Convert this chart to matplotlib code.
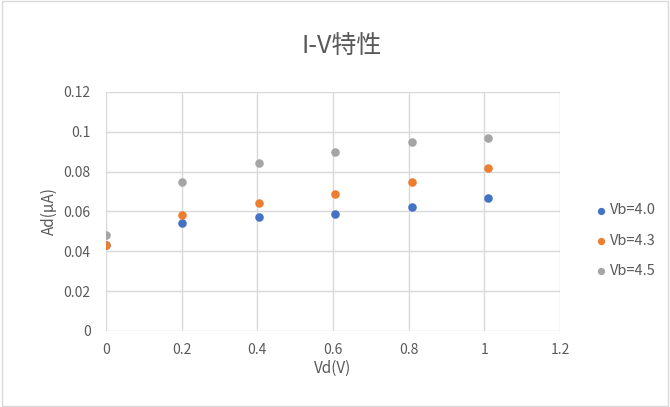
import matplotlib
matplotlib.use("Agg")
import matplotlib.pyplot as plt

plt.rcParams['font.family'] = ['Noto Sans CJK SC', 'DejaVu Sans']

vd = [0, 0.202, 0.404, 0.606, 0.808, 1.01]
vb40 = [0.043, 0.054, 0.057, 0.0585, 0.062, 0.067]
vb43 = [0.043, 0.058, 0.064, 0.069, 0.075, 0.082]
vb45 = [0.048, 0.075, 0.0845, 0.090, 0.095, 0.097]
series_labels = ['Vb=4.0', 'Vb=4.3', 'Vb=4.5']
colors = ['#4472C4', '#ED7D31', '#A5A5A5']

fig = plt.figure(figsize=(6.7, 4.07), dpi=100)
ax = fig.add_axes([0.158, 0.187, 0.678, 0.587])

for ys, lab, c in zip([vb40, vb43, vb45], series_labels, colors):
    ax.scatter(vd, ys, s=38, color=c, label=lab, zorder=3, linewidths=0)

ax.set_xlim(0, 1.2)
ax.set_ylim(0, 0.12)
ax.set_xticks([0, 0.2, 0.4, 0.6, 0.8, 1, 1.2])
ax.set_xticklabels(['0', '0.2', '0.4', '0.6', '0.8', '1', '1.2'])
ax.set_yticks([0, 0.02, 0.04, 0.06, 0.08, 0.1, 0.12])
ax.set_yticklabels(['0', '0.02', '0.04', '0.06', '0.08', '0.1', '0.12'])
ax.grid(True, color='#D9D9D9', linewidth=1)
ax.set_axisbelow(True)
for s in ax.spines.values():
    s.set_visible(False)
ax.tick_params(length=0, colors='#595959', labelsize=10)
ax.tick_params(axis='y', pad=11)
ax.tick_params(axis='x', pad=9)
ax.set_xlabel('Vd(V)', color='#595959', fontsize=11, labelpad=2)
ax.set_ylabel('Ad(μA)', color='#595959', fontsize=11, labelpad=4)

fig.text(0.51, 0.888, 'I-V特性', ha='center', va='center', fontsize=18, color='#595959')

leg = ax.legend(loc='center left', bbox_to_anchor=(1.045, 0.377), frameon=False,
                handletextpad=0.1, labelspacing=1.12, fontsize=10.5, markerscale=0.85,
                handlelength=1.0)
for t in leg.get_texts():
    t.set_color('#595959')

border = plt.Rectangle((0.003, 0.003), 0.994, 0.994, transform=fig.transFigure,
                       fill=False, edgecolor='#D9D9D9', linewidth=1)
fig.patches.append(border)

fig.savefig('out.png', dpi=100)
